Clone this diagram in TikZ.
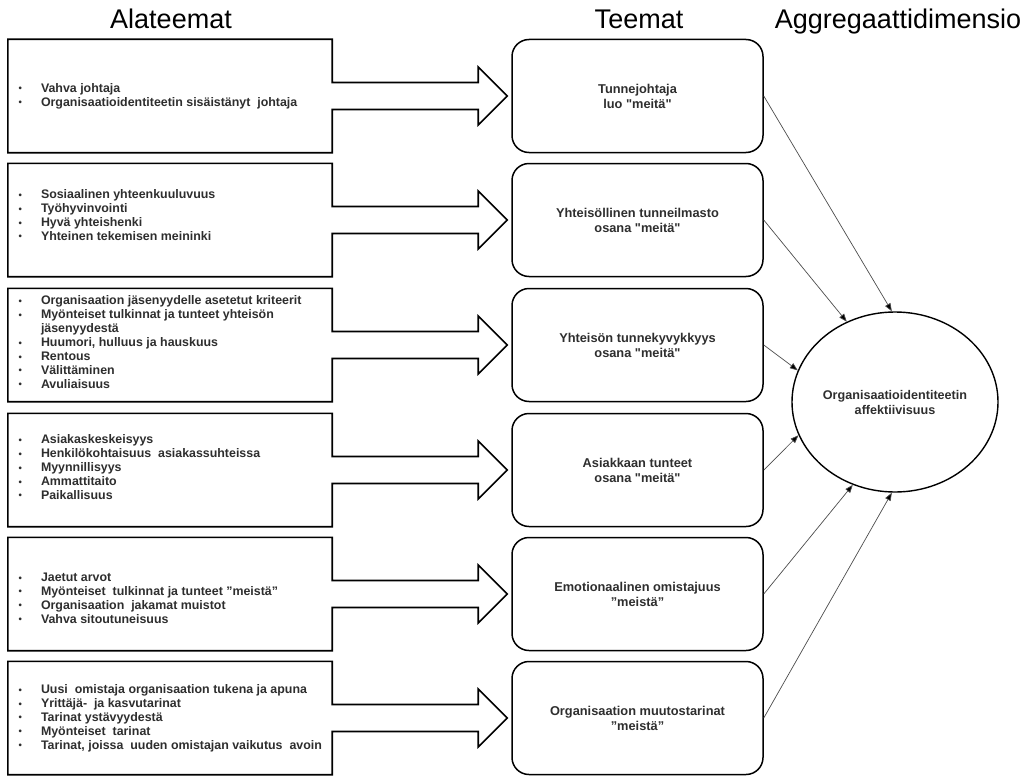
\documentclass[tikz,border=0pt]{standalone}
\usepackage{fontspec}
\setmainfont{Liberation Sans}[Ligatures=TeXOff]
\usetikzlibrary{shapes.geometric,arrows.meta,calc}

% bullet column for the sub-theme lists
\newcommand\bu{\makebox[23pt][l]{\hspace{0.5pt}\raisebox{0.3pt}{\fontsize{9.5}{9.5}\selectfont\textbullet}}}
\newcommand\ind{\hspace*{23pt}}

% block arrow: sub-theme box, shaft and head pointing at the theme box
\newcommand\blockarrow[2]{%
  \draw[blockline] (#1.north west) -- (#1.north east)
    -- ([yshift=13.5pt]#1.east)
    -- ([xshift=-33pt,yshift=13.5pt]#2.west)
    -- ([xshift=-33pt,yshift=29pt]#2.west)
    -- ([xshift=-4pt]#2.west)
    -- ([xshift=-33pt,yshift=-29pt]#2.west)
    -- ([xshift=-33pt,yshift=-13.5pt]#2.west)
    -- ([yshift=-13.5pt]#1.east)
    -- (#1.south east) -- (#1.south west) -- cycle;}

\tikzset{
  header/.style={font=\fontsize{27}{30}\selectfont, anchor=base, inner sep=0pt, text=black},
  leftbox/.style={minimum width=324pt, minimum height=113pt, inner sep=0pt},
  blockline/.style={draw=black, line width=1.6pt, line join=miter, fill=white},
  listtext/.style={font=\bfseries\fontsize{12.4}{13.9}\selectfont, text=black!82,
    align=left, anchor=west, inner sep=0pt},
  theme/.style={draw=black, line width=1.5pt, rounded corners=17pt,
    minimum width=251pt, minimum height=113pt, align=center, inner sep=0pt,
    font=\bfseries\fontsize{12.8}{15}\selectfont, text=black!82},
  dimension/.style={ellipse, draw=black, line width=1.4pt, minimum width=206pt,
    minimum height=180pt, inner sep=0pt, align=center,
    font=\bfseries\fontsize{12.6}{15}\selectfont, text=black!82},
  conn/.style={draw=black!70, line width=0.7pt,
    -{Triangle[length=8pt,width=6pt,fill=black]}}
}

\begin{document}
\begin{tikzpicture}[x=1pt,y=-1pt]
\useasboundingbox (0,0) rectangle (1033,776);

% column headers
\node[header] (h1) at (171,29) {Alateemat};
\node[header] (h2) at (639,29) {Teemat};
\node[header] (h3) at (898,29) {Aggregaattidimensio};

% sub-theme boxes
\node[leftbox] (a1) at (170,96) {};
\node[leftbox] (a2) at (170,220) {};
\node[leftbox] (a3) at (170,345) {};
\node[leftbox] (a4) at (170,470) {};
\node[leftbox] (a5) at (170,594) {};
\node[leftbox] (a6) at (170,718) {};

% themes
\node[theme] (t1) at (637.5,96) {Tunnejohtaja\\luo "meitä"};
\node[theme] (t2) at (637.5,220) {Yhteisöllinen tunneilmasto\\osana "meitä"};
\node[theme] (t3) at (637.5,345) {Yhteisön tunnekyvykkyys\\osana "meitä"};
\node[theme] (t4) at (637.5,470) {Asiakkaan tunteet\\osana "meitä"};
\node[theme] (t5) at (637.5,594) {Emotionaalinen omistajuus\\”meistä”};
\node[theme] (t6) at (637.5,718) {Organisaation muutostarinat\\”meistä”};

% aggregate dimension
\node[dimension] (dim) at (895,402) {Organisaatioidentiteetin\\affektiivisuus};

% block arrows from sub-themes to themes
\blockarrow{a1}{t1}
\blockarrow{a2}{t2}
\blockarrow{a3}{t3}
\blockarrow{a4}{t4}
\blockarrow{a5}{t5}
\blockarrow{a6}{t6}

% sub-theme lists
\node[listtext] (l1) at ([xshift=10pt]a1.west) {%
  \bu Vahva johtaja\\
  \bu Organisaatioidentiteetin sisäistänyt \ johtaja};
\node[listtext] (l2) at ([xshift=10pt,yshift=5pt]a2.west) {%
  \bu Sosiaalinen yhteenkuuluvuus\\
  \bu Työhyvinvointi\\
  \bu Hyvä yhteishenki\\
  \bu Yhteinen tekemisen meininki};
\node[listtext] (l3) at ([xshift=10pt,yshift=3pt]a3.west) {%
  \bu Organisaation jäsenyydelle asetetut kriteerit\\
  \bu Myönteiset tulkinnat ja tunteet yhteisön\\
  \ind jäsenyydestä\\
  \bu Huumori, hulluus ja hauskuus\\
  \bu Rentous\\
  \bu Välittäminen\\
  \bu Avuliaisuus};
\node[listtext] (l4) at ([xshift=10pt,yshift=3pt]a4.west) {%
  \bu Asiakaskeskeisyys\\
  \bu Henkilökohtaisuus \ asiakassuhteissa\\
  \bu Myynnillisyys\\
  \bu Ammattitaito\\
  \bu Paikallisuus};
\node[listtext] (l5) at ([xshift=10pt,yshift=-4pt]a5.west) {%
  \bu Jaetut arvot\\
  \bu Myönteiset \ tulkinnat ja tunteet ”meistä”\\
  \bu Organisaation \ jakamat muistot\\
  \bu Vahva sitoutuneisuus};
\node[listtext] (l6) at ([xshift=10pt]a6.west) {%
  \bu Uusi \ omistaja organisaation tukena ja apuna\\
  \bu Yrittäjä- \ ja kasvutarinat\\
  \bu Tarinat ystävyydestä\\
  \bu Myönteiset \ tarinat\\
  \bu Tarinat, joissa \ uuden omistajan vaikutus \ avoin};

% themes feeding the aggregate dimension
\draw[conn] (t1.east) -- (dim.92);
\draw[conn] (t2.east) -- (dim.121);
\draw[conn] (t3.east) -- (dim.162);
\draw[conn] (t4.east) -- (dim.199);
\draw[conn] (t5.east) -- (dim.243);
\draw[conn] (t6.east) -- (dim.268);
\end{tikzpicture}
\end{document}
